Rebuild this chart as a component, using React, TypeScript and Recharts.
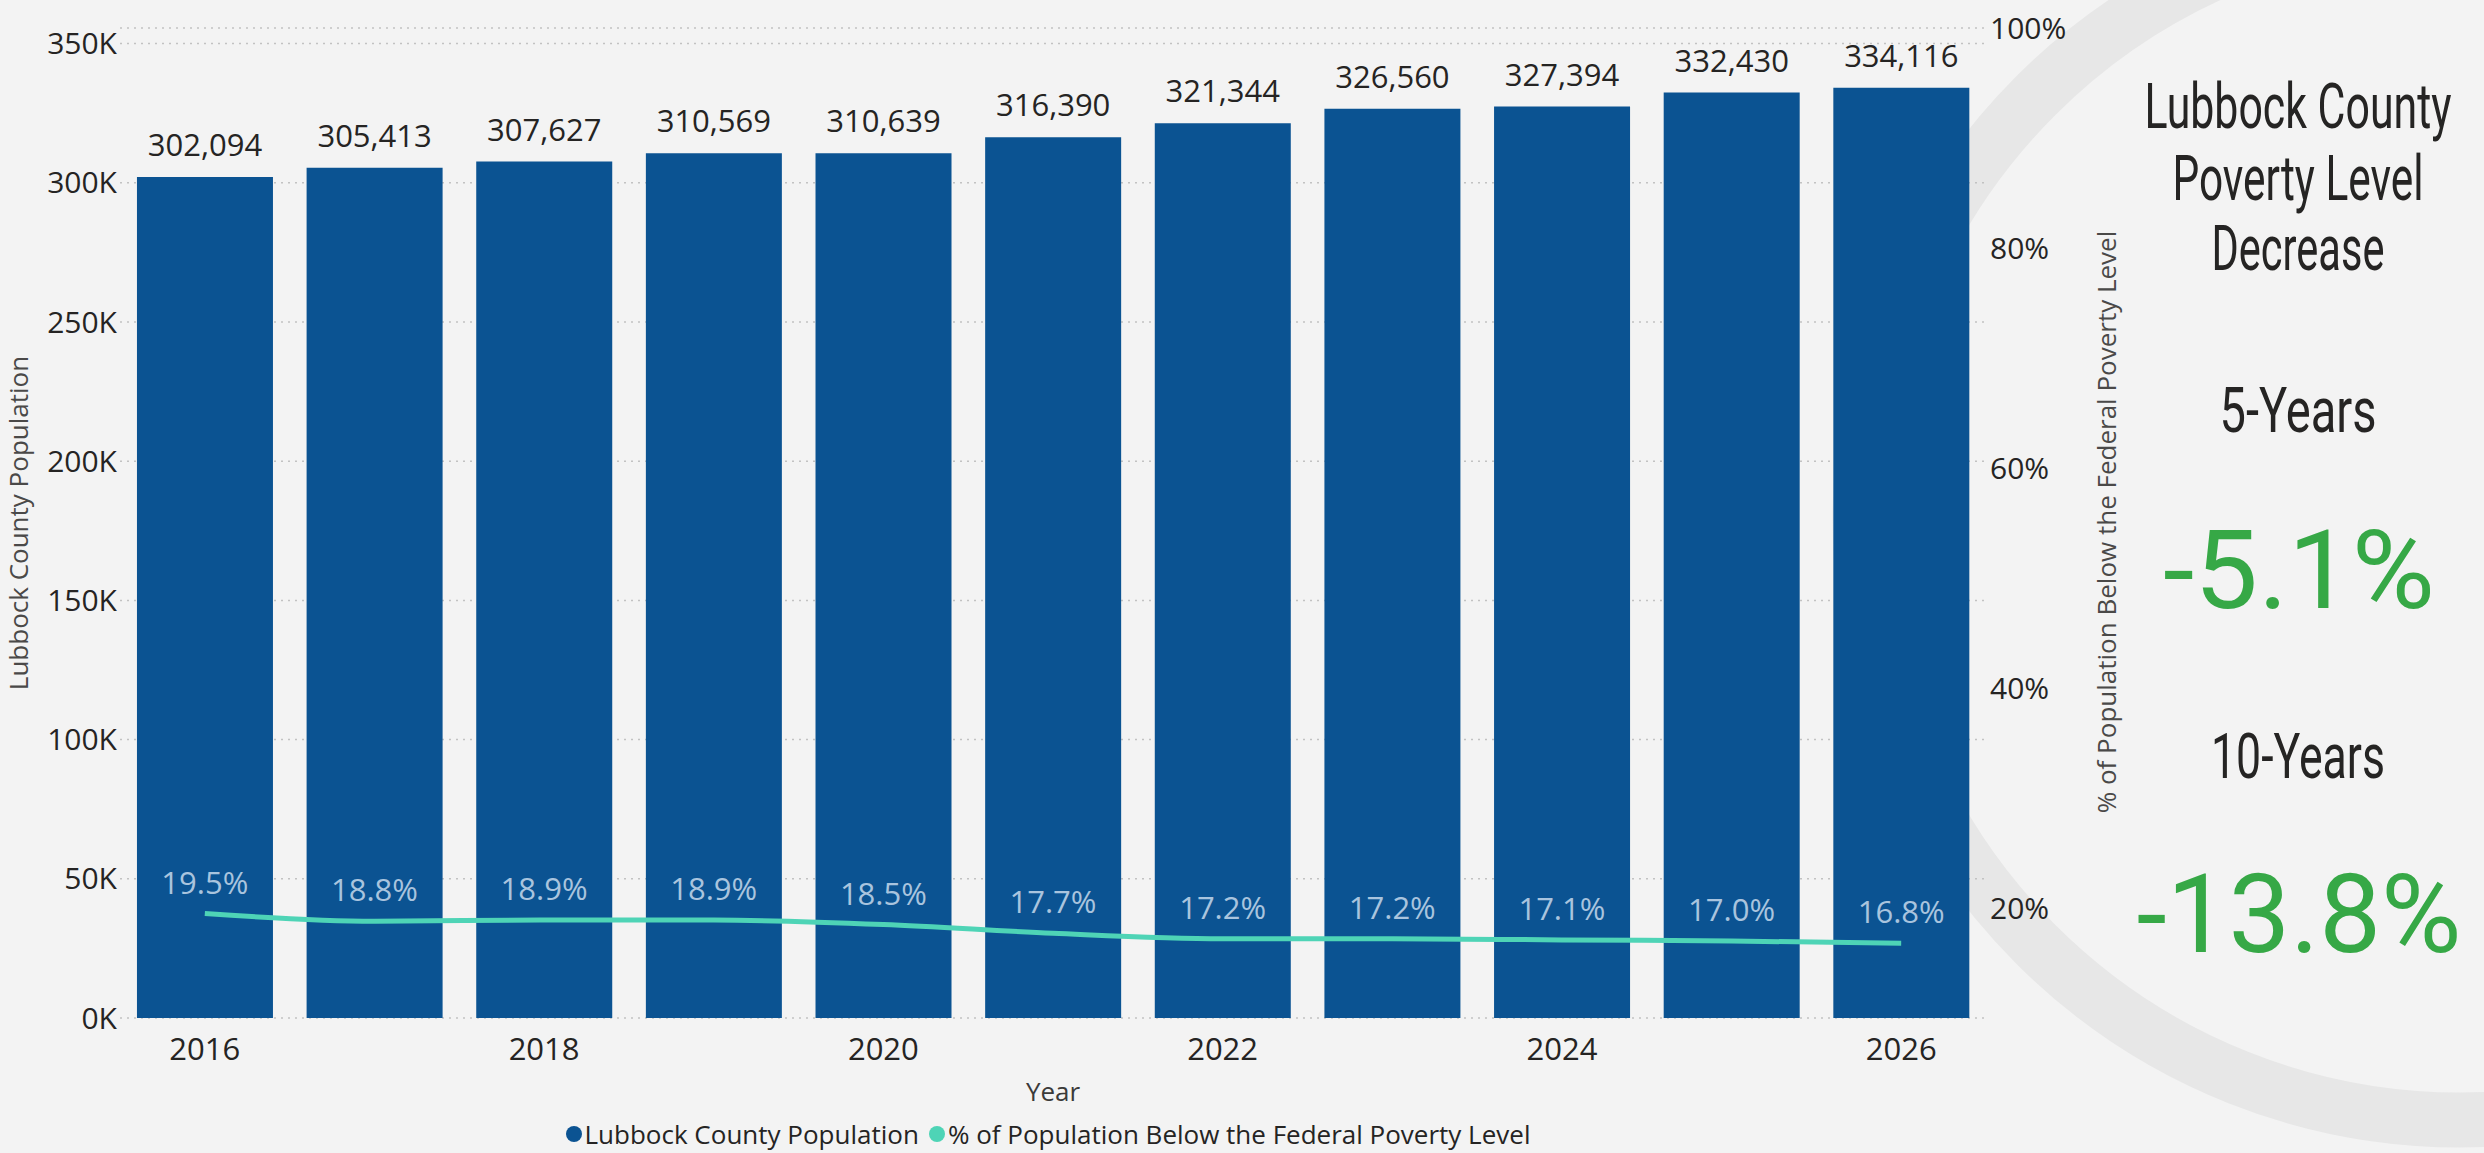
import {
  ComposedChart, Bar, Line, XAxis, YAxis, CartesianGrid, Legend, LabelList,
} from "recharts";

const years = ["2016", "2017", "2018", "2019", "2020", "2021", "2022", "2023", "2024", "2025", "2026"];
const population = [302094, 305413, 307627, 310569, 310639, 316390, 321344, 326560, 327394, 332430, 334116];
const povertyPct = [19.5, 18.8, 18.9, 18.9, 18.5, 17.7, 17.2, 17.2, 17.1, 17.0, 16.8];

const popTicks = [0, 50000, 100000, 150000, 200000, 250000, 300000, 350000];
const pctTicks = [20, 40, 60, 80, 100];

const seriesNames = ["Lubbock County Population", "% of Population Below the Federal Poverty Level"];

const titleLines = ["Lubbock County", "Poverty Level", "Decrease"];
const periodLabels = ["5-Years", "10-Years"];
const periodChanges = ["-5.1%", "-13.8%"];

const BAR_COLOR = "#0b5392";
const LINE_COLOR = "#4ed4b6";
const TEXT = "#252423";
const FONT = "'Open Sans', 'Noto Sans', sans-serif";

const data = years.map((year, i) => ({
  year,
  population: population[i],
  poverty: povertyPct[i],
}));

function LegendContent({ payload }: any) {
  const items = [...(payload || [])].sort(
    (a: any, b: any) => seriesNames.indexOf(a.value) - seriesNames.indexOf(b.value)
  );
  return (
    <div style={{ display: "flex", justifyContent: "center", alignItems: "center", height: 36, fontFamily: FONT, fontSize: 26, color: TEXT }}>
      {items.map((p: any) => (
        <span key={p.value} style={{ display: "flex", alignItems: "center", marginRight: 10 }}>
          <span style={{ width: 16, height: 16, borderRadius: 8, background: p.color, marginRight: 3 }} />
          {p.value}
        </span>
      ))}
    </div>
  );
}

function SidePanel() {
  const cx = 198;
  // condensed look: small font stretched vertically
  const stretch = 1.42;
  const titleBase = [128, 200, 270];
  const titleWidth = [307, 251, 173];
  const periodBase = [432, 778];
  const periodWidth = [157, 174];
  const changeBase = [608, 952];
  const changeWidth = [272, 325];
  return (
    <svg width={384} height={1153} style={{ position: "absolute", left: 2100, top: 0 }}>
      <g fontFamily="Roboto, sans-serif" fill={TEXT} fontSize={44} textAnchor="middle">
        {titleLines.map((t, i) => (
          <text key={t} transform={`translate(${cx},${titleBase[i]}) scale(1,${stretch})`} textLength={titleWidth[i]} lengthAdjust="spacingAndGlyphs">{t}</text>
        ))}
        {periodLabels.map((t, i) => (
          <text key={t} transform={`translate(${cx},${periodBase[i]}) scale(1,${stretch})`} textLength={periodWidth[i]} lengthAdjust="spacingAndGlyphs">{t}</text>
        ))}
      </g>
      <g fontFamily="Roboto, sans-serif" fill="#36a846" fontSize={110} textAnchor="middle">
        {periodChanges.map((t, i) => (
          <text key={t} x={cx + 1} y={changeBase[i]} textLength={changeWidth[i]} lengthAdjust="spacingAndGlyphs">{t}</text>
        ))}
      </g>
    </svg>
  );
}

export default function App() {
  return (
    <div style={{ position: "absolute", left: 0, top: 0, width: 2484, height: 1153, background: "#f3f3f3", overflow: "hidden" }}>
      <svg width={2484} height={1153} style={{ position: "absolute", left: 0, top: 0 }}>
        <circle cx={2460} cy={520} r={600} fill="none" stroke="#e7e7e7" strokeWidth={55} />
      </svg>

      <div style={{ position: "absolute", left: 0, top: 0 }}>
        <ComposedChart
          width={2100}
          height={1153}
          data={data}
          barCategoryGap="10%"
          margin={{ top: 28, right: 24, bottom: 9, left: 0 }}
          style={{ fontFamily: FONT }}
        >
          <CartesianGrid yAxisId="left" vertical={false} stroke="#c2c2c2" strokeDasharray="2 5" strokeWidth={1.5} />
          <XAxis
            dataKey="year"
            interval={1}
            axisLine={false}
            tickLine={false}
            tickSize={0}
            tickMargin={20}
            height={90}
            tick={{ fontSize: 31, fill: TEXT }}
            label={{ value: "Year", position: "insideBottom", offset: 7, fontSize: 26, fill: "#3b3a39" }}
          />
          <YAxis
            yAxisId="left"
            domain={[0, 355600]}
            ticks={popTicks}
            width={120}
            axisLine={false}
            tickLine={false}
            tickSize={0}
            tickMargin={3}
            tick={{ fontSize: 30, fill: TEXT }}
            tickFormatter={(v) => `${v / 1000}K`}
          />
          <YAxis
            yAxisId="right"
            orientation="right"
            domain={[10, 100]}
            ticks={pctTicks}
            width={90}
            axisLine={false}
            tickLine={false}
            tickSize={0}
            tickMargin={4}
            tick={{ fontSize: 30, fill: TEXT }}
            tickFormatter={(v) => `${v}%`}
          />
          <Legend
            content={<LegendContent />}
            width={2106}
            height={36}
            wrapperStyle={{ left: 0, top: 1116, width: 2106, height: 36 }}
          />
          <Bar yAxisId="left" dataKey="population" name={seriesNames[0]} fill={BAR_COLOR} isAnimationActive={false}>
            <LabelList
              dataKey="population"
              position="top"
              offset={21}
              fill={TEXT}
              fontSize={31}
              formatter={(v: any) => Number(v).toLocaleString("en-US")}
            />
          </Bar>
          <Line
            yAxisId="right"
            type="monotone"
            dataKey="poverty"
            name={seriesNames[1]}
            stroke={LINE_COLOR}
            strokeWidth={5}
            dot={false}
            isAnimationActive={false}
          >
            <LabelList
              dataKey="poverty"
              position="top"
              offset={20}
              fill="#a9c4de"
              fontSize={31}
              formatter={(v: any) => `${Number(v).toFixed(1)}%`}
            />
          </Line>
        </ComposedChart>
      </div>

      <div style={{ position: "absolute", left: 18, top: 523, transform: "translate(-50%, -50%) rotate(-90deg)", whiteSpace: "nowrap", fontFamily: FONT, fontSize: 26, lineHeight: 1, color: "#4a4948" }}>
        Lubbock County Population
      </div>
      <div style={{ position: "absolute", left: 2106, top: 522, transform: "translate(-50%, -50%) rotate(-90deg)", whiteSpace: "nowrap", fontFamily: FONT, fontSize: 26, lineHeight: 1, color: "#4a4948" }}>
        % of Population Below the Federal Poverty Level
      </div>

      <SidePanel />
    </div>
  );
}
